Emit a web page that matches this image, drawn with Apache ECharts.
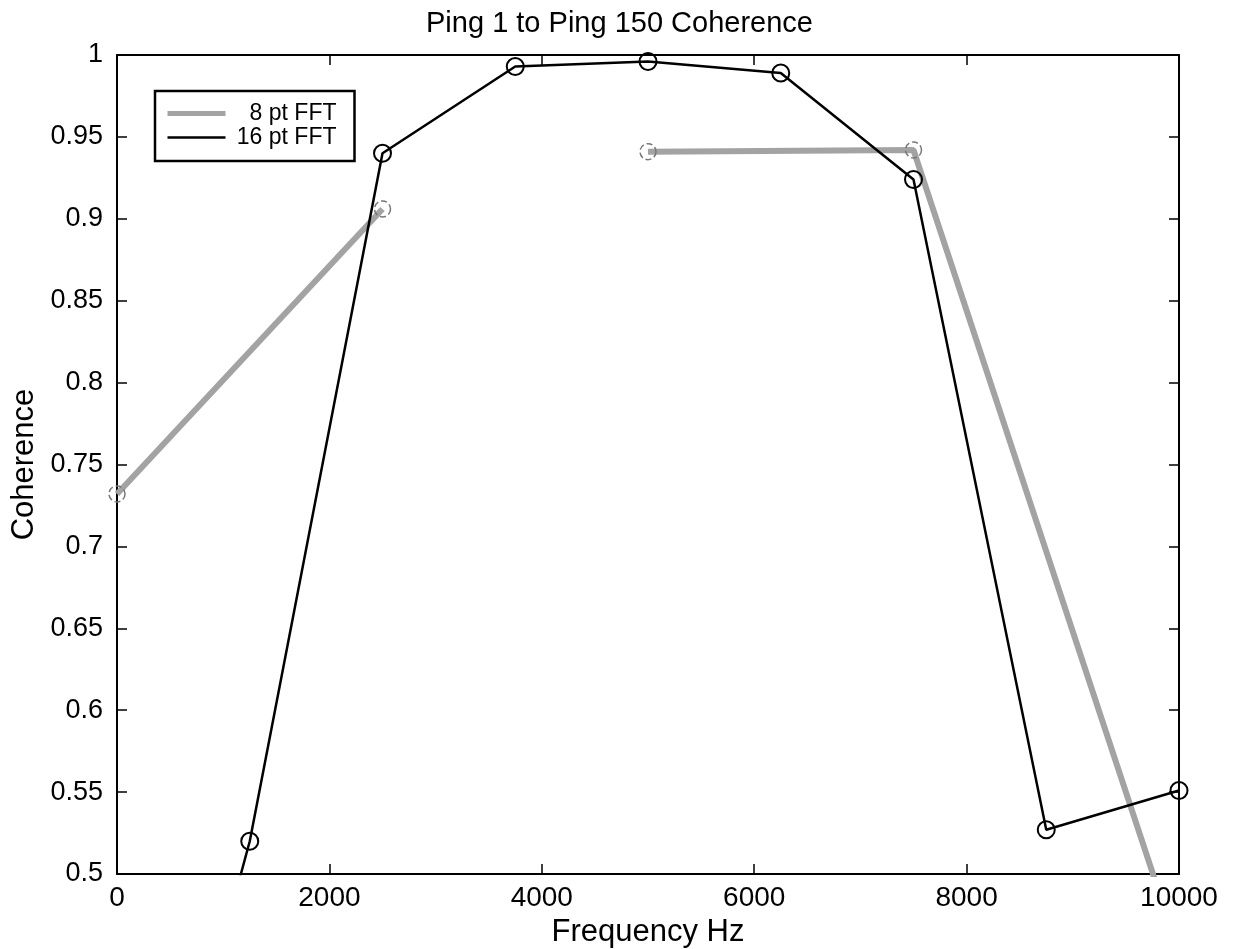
<!DOCTYPE html>
<html>
<head>
<meta charset="utf-8">
<script src="https://cdn.jsdelivr.net/npm/echarts@6/dist/echarts.min.js"></script>
<style>html,body{margin:0;padding:0;background:#fff}#c{width:1239px;height:949px}</style>
</head>
<body>
<div id="c"></div>
<script>
const titleText = 'Ping 1 to Ping 150 Coherence';
const xName = 'Frequency Hz';
const yName = 'Coherence';
const freq16 = [0, 1250, 2500, 3750, 5000, 6250, 7500, 8750, 10000];
const coh16 = [0.22, 0.52, 0.94, 0.993, 0.996, 0.989, 0.924, 0.527, 0.551];
const freq8 = [0, 2500, 5000, 7500, 10000];
const coh8 = [0.732, 0.906, 0.941, 0.942, 0.452];
const xTicks = [0, 2000, 4000, 6000, 8000, 10000];
const yTicks = [0.5, 0.55, 0.6, 0.65, 0.7, 0.75, 0.8, 0.85, 0.9, 0.95, 1];

const font = 'Liberation Sans, Arial, sans-serif';
const pts16 = freq16.map((f, i) => [f, coh16[i]]);
const pts8 = freq8.map((f, i) => [f, coh8[i]]);
const seg8a = pts8.slice(0, 2);
const seg8b = pts8.slice(2);

const fmtY = v => (Math.round(v * 100) / 100).toString();
const fmtX = v => String(Math.round(v));

const chart = echarts.init(document.getElementById('c'));
const gray = '#a3a3a3';
const tick = { show: true, inside: true, length: 10, lineStyle: { color: '#000', width: 1.5 } };
const baseX = {
  type: 'value', min: xTicks[0], max: xTicks[xTicks.length - 1], interval: 2000,
  axisLine: { show: true, onZero: false, lineStyle: { color: '#000', width: 2 } },
  axisTick: tick,
  splitLine: { show: false }
};
const baseY = {
  type: 'value', min: yTicks[0], max: yTicks[yTicks.length - 1], interval: 0.05,
  axisLine: { show: true, onZero: false, lineStyle: { color: '#000', width: 2 } },
  axisTick: tick,
  splitLine: { show: false }
};
chart.setOption({
  animation: false,
  backgroundColor: '#fff',
  title: {
    text: titleText, left: 'center', top: 4,
    textStyle: { fontFamily: font, fontSize: 29, fontWeight: 'normal', color: '#000' }
  },
  legend: {
    left: 155, top: 91, orient: 'vertical',
    padding: [11, 18, 12, 10], itemGap: 1,
    borderColor: '#000', borderWidth: 2.5,
    itemWidth: 58, itemHeight: 14,
    formatter: n => '{r|' + n + '}',
    textStyle: {
      fontFamily: font, fontSize: 23, color: '#000',
      rich: { r: { width: 106, align: 'right', fontFamily: font, fontSize: 23, lineHeight: 20, color: '#000' } }
    },
    data: [
      { name: '8 pt FFT', itemStyle: { opacity: 0 }, lineStyle: { width: 5, color: gray } },
      { name: '16 pt FFT', itemStyle: { opacity: 0 }, lineStyle: { width: 2.5, color: '#000' } }
    ]
  },
  grid: { left: 117, right: 60, top: 55, bottom: 75, show: false, outerBoundsMode: 'none', containLabel: false },
  xAxis: [
    Object.assign({}, baseX, {
      position: 'bottom',
      name: xName, nameLocation: 'middle', nameGap: 39,
      nameTextStyle: { fontFamily: font, fontSize: 31, color: '#000' },
      axisLabel: { fontFamily: font, fontSize: 28, color: '#000', margin: 10, formatter: fmtX }
    }),
    Object.assign({}, baseX, { position: 'top', axisLabel: { show: false } })
  ],
  yAxis: [
    Object.assign({}, baseY, {
      position: 'left',
      name: yName, nameLocation: 'middle', nameGap: 75,
      nameTextStyle: { fontFamily: font, fontSize: 31, color: '#000' },
      axisLabel: { fontFamily: font, fontSize: 27, color: '#000', margin: 14, formatter: fmtY }
    }),
    Object.assign({}, baseY, { position: 'right', axisLabel: { show: false } })
  ],
  series: [
    {
      name: '8 pt FFT', type: 'line', data: seg8a, xAxisIndex: 0, yAxisIndex: 0,
      symbol: 'circle', symbolSize: 16,
      lineStyle: { color: gray, width: 6 },
      itemStyle: { color: 'rgba(0,0,0,0)', borderColor: '#777', borderWidth: 1.5, borderType: 'dashed' },
      z: 2
    },
    {
      name: '8 pt FFT', type: 'line', data: seg8b, xAxisIndex: 0, yAxisIndex: 0,
      symbol: 'circle', symbolSize: 16,
      lineStyle: { color: gray, width: 6 },
      itemStyle: { color: 'rgba(0,0,0,0)', borderColor: '#777', borderWidth: 1.5, borderType: 'dashed' },
      z: 2
    },
    {
      name: '16 pt FFT', type: 'line', data: pts16, xAxisIndex: 0, yAxisIndex: 0,
      symbol: 'circle', symbolSize: 17,
      lineStyle: { color: '#000', width: 2.5 },
      itemStyle: { color: 'rgba(0,0,0,0)', borderColor: '#000', borderWidth: 2 },
      z: 3
    }
  ]
});
</script>
</body>
</html>
